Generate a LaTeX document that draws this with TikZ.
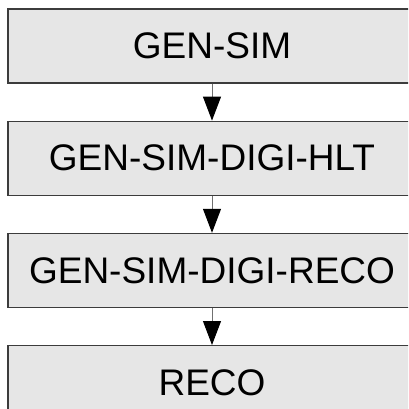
\documentclass[tikz,border=0pt]{standalone}
\usepackage{fontspec}
\setmainfont{Liberation Sans}
\usetikzlibrary{arrows.meta, positioning}

\definecolor{boxfill}{HTML}{E6E6E6}
\definecolor{boxline}{HTML}{3C3C3C}
\definecolor{shaft}{HTML}{707070}

\begin{document}
\begin{tikzpicture}[x=1pt, y=1pt,
    tier/.style={draw=boxline, fill=boxfill, line width=1.2pt, minimum width=408pt,
      minimum height=74pt, inner sep=0pt, font=\fontsize{37}{41}\selectfont},
    flow/.style={draw=shaft, line width=1pt, -{Triangle[length=24pt, width=18pt, fill=black, color=black]}}]
    \useasboundingbox (0,0) rectangle (408,-409);
    \clip (0,0) rectangle (408,-409);

    % Tiers
    \node[tier] (gensim) at (212,-46) {GEN-SIM};
    \node[tier, below=37pt of gensim] (hlt) {GEN-SIM-DIGI-HLT};
    \node[tier, below=37pt of hlt] (digireco) {GEN-SIM-DIGI-RECO};
    \node[tier, below=37pt of digireco] (reco) {RECO};

    % Arrows
    \draw[flow] (gensim) -- (hlt);
    \draw[flow] (hlt) -- (digireco);
    \draw[flow] (digireco) -- (reco);
  \end{tikzpicture}
\end{document}
